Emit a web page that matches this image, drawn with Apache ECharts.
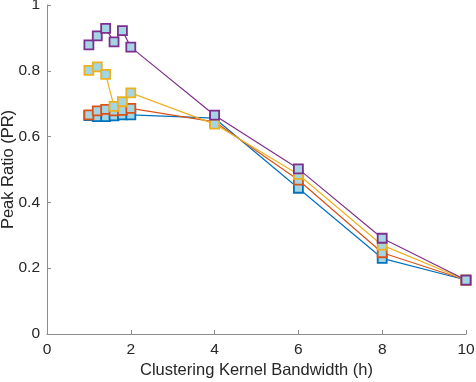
<!DOCTYPE html>
<html>
<head>
<meta charset="utf-8">
<script src="https://cdn.jsdelivr.net/npm/echarts@6/dist/echarts.min.js"></script>
<style>
    html, body { margin: 0; padding: 0; background: #fff; }
    #chart { width: 476px; height: 382px; }
</style>
</head>
<body>
<div id="chart"></div>
<script>
    // bandwidth values (h)
    var bandwidth = [1, 1.2, 1.4, 1.6, 1.8, 2, 4, 6, 8, 10];
    // peak ratio for each run
    var seriesBlue   = [0.664, 0.661, 0.661, 0.663, 0.666, 0.666, 0.656, 0.443, 0.230, 0.164];
    var seriesOrange = [0.666, 0.678, 0.683, 0.678, 0.680, 0.686, 0.645, 0.468, 0.247, 0.164];
    var seriesYellow = [0.801, 0.812, 0.789, 0.692, 0.706, 0.733, 0.638, 0.485, 0.270, 0.164];
    var seriesPurple = [0.879, 0.906, 0.929, 0.888, 0.922, 0.872, 0.665, 0.502, 0.291, 0.164];
    var xTicks = [0, 2, 4, 6, 8, 10];
    var yTicks = [0, 0.2, 0.4, 0.6, 0.8, 1];

    var colors = ['#0072BD', '#D95319', '#EDB120', '#7E2F8E'];
    var allData = [seriesBlue, seriesOrange, seriesYellow, seriesPurple];

    function pairs(ys){
        return bandwidth.map(function(x, i){ return [x, ys[i]]; });
    }

    var myChart = echarts.init(document.getElementById('chart'));
    var axisGray = '#8c8c8c';
    var textColor = '#262626';
    var font = 'Helvetica, "Liberation Sans", Arial, sans-serif';

    var option = {
        animation: false,
        textStyle: { fontFamily: font },
        grid: { left: 47, right: 10, top: 5, bottom: 48, containLabel: false, outerBoundsMode: 'none' },
        xAxis: {
            type: 'value',
            min: xTicks[0],
            max: xTicks[xTicks.length - 1],
            interval: 2,
            name: 'Clustering Kernel Bandwidth (h)',
            nameLocation: 'middle',
            nameGap: 28,
            nameMoveOverlap: false,
            nameTextStyle: { color: textColor, fontSize: 16.5, fontFamily: font },
            axisLine: { lineStyle: { color: axisGray, width: 1 } },
            axisTick: { inside: true, length: 4, lineStyle: { color: axisGray } },
            axisLabel: { color: textColor, fontSize: 15.5, margin: 8, fontFamily: font },
            splitLine: { show: false }
        },
        yAxis: {
            type: 'value',
            min: yTicks[0],
            max: yTicks[yTicks.length - 1],
            interval: 0.2,
            name: 'Peak Ratio (PR)',
            nameLocation: 'middle',
            nameGap: 30,
            nameMoveOverlap: false,
            nameTextStyle: { color: textColor, fontSize: 16.5, fontFamily: font },
            axisLine: { show: true, lineStyle: { color: axisGray, width: 1 } },
            axisTick: { show: true, inside: true, length: 4, lineStyle: { color: axisGray } },
            axisLabel: { color: textColor, fontSize: 15.5, margin: 7, fontFamily: font },
            splitLine: { show: false }
        },
        series: allData.map(function(d, i){
            return {
                type: 'line',
                data: pairs(d),
                symbol: 'rect',
                symbolSize: 9,
                z: 2 + i,
                lineStyle: { color: colors[i], width: 1.2 },
                itemStyle: { color: '#a3d5e3', borderColor: colors[i], borderWidth: 1.8 }
            };
        })
    };
    myChart.setOption(option);
</script>
</body>
</html>
